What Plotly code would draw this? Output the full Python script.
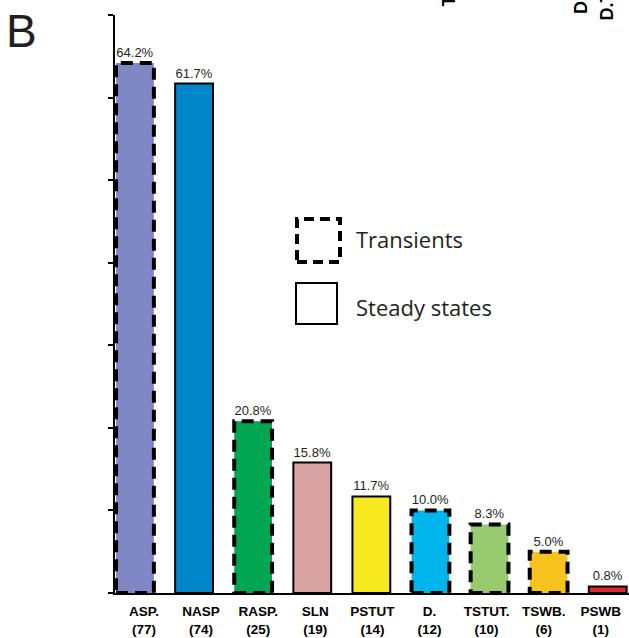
import plotly.graph_objects as go

# ---- data ----
categories = ["ASP.", "NASP", "RASP.", "SLN", "PSTUT", "D.", "TSTUT.", "TSWB.", "PSWB"]
counts = [77, 74, 25, 19, 14, 12, 10, 6, 1]
percent = [64.2, 61.7, 20.8, 15.8, 11.7, 10.0, 8.3, 5.0, 0.8]
transient = [True, False, True, False, False, True, True, True, False]
colors = ["#7F88C5", "#0086C9", "#00A651", "#D9A3A3", "#F7EA21",
          "#00B5EC", "#98CB70", "#F9C31F", "#E2262B"]
y_ticks = [0, 10, 20, 30, 40, 50, 60, 70]

W, H = 629, 638
L, R, T, B = 115, 0, 15, 45
PW, PH = W - L - R, H - T - B
BAR_W = 0.64
TXT = "#231F20"


def px2x(px):
    return (px - L) / PW


def py2y(py):
    return (H - B - py) / PH


idx = list(range(len(categories)))
ticktext = [f"<b>{c}</b><br><b>({n})</b>" for c, n in zip(categories, counts)]

fig = go.Figure()
fig.add_trace(go.Bar(
    x=idx, y=percent, width=BAR_W,
    marker=dict(color=colors,
                line=dict(color="black", width=[0 if t else 2 for t in transient])),
    text=[f"{v:.1f}%" for v in percent],
    textposition="outside",
    constraintext="none",
    textfont=dict(family="Liberation Sans, Arial", size=13, color=TXT),
    cliponaxis=False,
    showlegend=False,
    hoverinfo="skip",
))
# helper (invisible) trace carrying category labels on an overlaid axis
fig.add_trace(go.Scatter(
    x=idx, y=percent, xaxis="x2", mode="markers",
    marker=dict(opacity=0), showlegend=False, hoverinfo="skip",
))

shapes = []
for i, (v, t) in enumerate(zip(percent, transient)):
    if t:
        shapes.append(dict(type="rect", xref="x", yref="y",
                           x0=i - BAR_W / 2, x1=i + BAR_W / 2, y0=0, y1=v,
                           line=dict(color="black", width=4, dash="12px,7px"),
                           fillcolor="rgba(0,0,0,0)", layer="above"))

# legend boxes
shapes.append(dict(type="rect", xref="paper", yref="paper",
                   x0=px2x(297), x1=px2x(340), y0=py2y(262), y1=py2y(219),
                   line=dict(color="black", width=4, dash="10px,6px")))
shapes.append(dict(type="rect", xref="paper", yref="paper",
                   x0=px2x(296), x1=px2x(337), y0=py2y(324), y1=py2y(283),
                   line=dict(color="black", width=2)))

annotations = [
    dict(text="Transients", xref="paper", yref="paper", x=px2x(354), y=py2y(239),
         xanchor="left", yanchor="middle", showarrow=False,
         font=dict(family="Open Sans", size=22, color=TXT)),
    dict(text="Steady states", xref="paper", yref="paper", x=px2x(354), y=py2y(307),
         xanchor="left", yanchor="middle", showarrow=False,
         font=dict(family="Open Sans", size=22, color=TXT)),
    dict(text="B", xref="paper", yref="paper", x=px2x(4), y=py2y(31),
         xanchor="left", yanchor="middle", showarrow=False,
         font=dict(family="Liberation Sans, Arial", size=46, color=TXT)),
]
for txt, cx, bottom in [("T", 448, 9), ("D.", 581, 16), ("D.T", 607, 23)]:
    annotations.append(dict(text=f"<b>{txt}</b>", xref="paper", yref="paper",
                            x=px2x(cx), y=py2y(bottom), xanchor="center", yanchor="bottom",
                            textangle=-90, showarrow=False,
                            font=dict(family="Liberation Sans, Arial", size=18, color="black")))

fig.update_layout(
    width=W, height=H,
    margin=dict(l=L, r=R, t=T, b=B, pad=0),
    paper_bgcolor="white", plot_bgcolor="white",
    shapes=shapes,
    annotations=annotations,
    hovermode=False,
    xaxis=dict(range=[-0.338, 8.36], showticklabels=False, ticks="",
               showline=True, linecolor="black", linewidth=2,
               showgrid=False, zeroline=False, fixedrange=True),
    xaxis2=dict(overlaying="x", anchor="y", side="bottom",
                range=[-0.508, 8.494], tickmode="array", tickvals=idx, ticktext=ticktext,
                ticks="outside", ticklen=6, tickcolor="rgba(0,0,0,0)",
                tickfont=dict(family="Liberation Sans, Arial", size=13.5, color="black"),
                showline=False, showgrid=False, zeroline=False),
    yaxis=dict(range=[0, 70], tickmode="array", tickvals=y_ticks, showticklabels=False,
               ticks="outside", ticklen=5, tickwidth=2, tickcolor="black",
               showline=True, linecolor="black", linewidth=2,
               showgrid=False, zeroline=False),
)

fig.write_html("out.html", config={"displayModeBar": False},
               post_script="document.body.style.margin='0';document.body.style.padding='0';")
